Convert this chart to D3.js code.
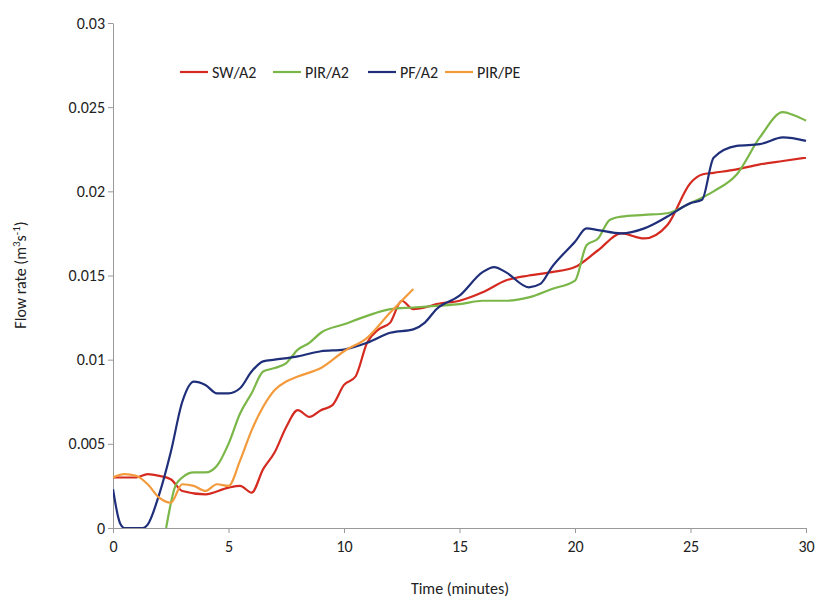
<!DOCTYPE html><html><head><meta charset="utf-8"><script src="https://cdn.jsdelivr.net/npm/d3@7"></script>
<style>body{margin:0;background:#fff}text{font-family:Calibri,Carlito,"Open Sans",sans-serif}</style></head><body><svg id="c" width="817" height="599"></svg>
<script>
const seriesNames=["SW/A2","PIR/A2","PF/A2","PIR/PE"];
const colors=["#d42a20","#7ab648","#1f2f7a","#f39a3c"];
const swA2=[[0,.003],[1,.003],[1.5,.0032],[2,.0031],[2.5,.0029],[3,.0022],[4,.002],[5,.0024],[5.5,.0025],[6,.0021],[6.5,.0035],[7,.0045],[7.5,.006],[8,.007],[8.5,.0066],[9,.007],[9.5,.0073],[10,.0085],[10.5,.009],[11,.011],[11.5,.0118],[12,.0122],[12.5,.0135],[13,.013],[13.5,.0131],[14,.0133],[15,.0135],[16,.014],[17,.0147],[18,.015],[19,.0152],[20,.0155],[21,.0165],[22,.0175],[23,.0172],[24,.018],[25,.0205],[25.5,.021],[26,.0211],[27,.0213],[28,.0216],[29,.0218],[30,.022]];
const pirA2=[[2.3,0],[2.7,.0025],[3,.003],[3.5,.0033],[4,.0033],[4.5,.0037],[5,.005],[5.5,.0068],[6,.008],[6.5,.0093],[7,.0095],[7.5,.0098],[8,.0106],[8.5,.011],[9,.0116],[10,.0121],[11,.0126],[12,.013],[13,.0131],[14,.0132],[15,.0133],[16,.0135],[17,.0135],[18,.0137],[19,.0142],[20,.0147],[20.5,.0168],[21,.0172],[21.5,.0183],[22,.0185],[23,.0186],[24,.0187],[25,.0193],[26,.02],[27,.021],[28,.0232],[29,.0247],[29.5,.0245],[30,.0242]];
const pfA2=[[0,.0023],[0.3,.0003],[0.5,0],[1.3,0],[1.5,.0002],[2,.002],[2.5,.0045],[3,.0075],[3.5,.0087],[4,.0085],[4.5,.008],[5,.008],[5.5,.0083],[6,.0093],[6.5,.0099],[7,.01],[8,.0102],[9,.0105],[10,.0106],[11,.011],[12,.0116],[13,.0118],[13.5,.0122],[14,.013],[15,.0138],[16,.0152],[16.5,.0155],[17,.0152],[18,.0143],[18.5,.0145],[19,.0155],[20,.017],[20.5,.0178],[21,.0177],[22,.0175],[23,.0178],[24,.0185],[25,.0193],[25.5,.0195],[26,.022],[27,.0227],[28,.0228],[29,.0232],[30,.023]];
const pirPE=[[0,.003],[0.5,.0032],[1,.0031],[1.5,.0026],[2,.0018],[2.5,.0015],[3,.0026],[3.5,.0025],[4,.0022],[4.5,.0026],[5,.0025],[5.5,.004],[6,.0058],[6.5,.0072],[7,.0082],[7.5,.0087],[8,.009],[9,.0095],[10,.0105],[11,.0113],[12,.0128],[12.5,.0135],[13,.0142]];
const xTicks=[0,5,10,15,20,25,30];
const yTicks=[0,.005,.01,.015,.02,.025,.03];
const all=[swA2,pirA2,pfA2,pirPE];
const svg=d3.select("#c");
const x=d3.scaleLinear().domain([0,30]).range([113,806]);
const y=d3.scaleLinear().domain([0,.03]).range([528,23]);
svg.append("defs").append("clipPath").attr("id","cp").append("rect").attr("x",113).attr("y",0).attr("width",700).attr("height",528);
const ax=svg.append("g").attr("transform","translate(0,528)").call(d3.axisBottom(x).tickValues(xTicks).tickSize(5).tickSizeOuter(0));
const ay=svg.append("g").attr("transform","translate(113,0)").call(d3.axisLeft(y).tickValues(yTicks).tickSize(5).tickSizeOuter(0).tickFormat(d=>d===0?"0":d3.format("")(+d.toFixed(3))));
[ax,ay].forEach(a=>{a.selectAll("path,line").attr("stroke","#999");a.selectAll("text").attr("font-size",16).attr("fill","#222");});
ax.selectAll("text").attr("dy","1em");
const line=d3.line().x(d=>x(d[0])).y(d=>y(d[1])).curve(d3.curveMonotoneX);
all.forEach((s,i)=>svg.append("path").attr("d",line(s)).attr("fill","none").attr("stroke",colors[i]).attr("stroke-width",2.2).attr("clip-path","url(#cp)"));
const lx=[180,273,368,445];
seriesNames.forEach((n,i)=>{svg.append("line").attr("x1",lx[i]).attr("x2",lx[i]+28).attr("y1",72).attr("y2",72).attr("stroke",colors[i]).attr("stroke-width",2.2);
svg.append("text").attr("x",lx[i]+32).attr("y",78).attr("font-size",16).attr("fill","#222").text(n);});
svg.append("text").attr("x",460).attr("y",594).attr("text-anchor","middle").attr("font-size",16).attr("fill","#222").text("Time (minutes)");
const t=svg.append("text").attr("transform","translate(26,275) rotate(-90)").attr("text-anchor","middle").attr("font-size",16).attr("fill","#222");
t.append("tspan").text("Flow rate (m");t.append("tspan").attr("font-size",11).attr("dy",-6).text("3");t.append("tspan").attr("dy",6).text("s");t.append("tspan").attr("font-size",11).attr("dy",-6).text("-1");t.append("tspan").attr("dy",6).text(")");
</script></body></html>
